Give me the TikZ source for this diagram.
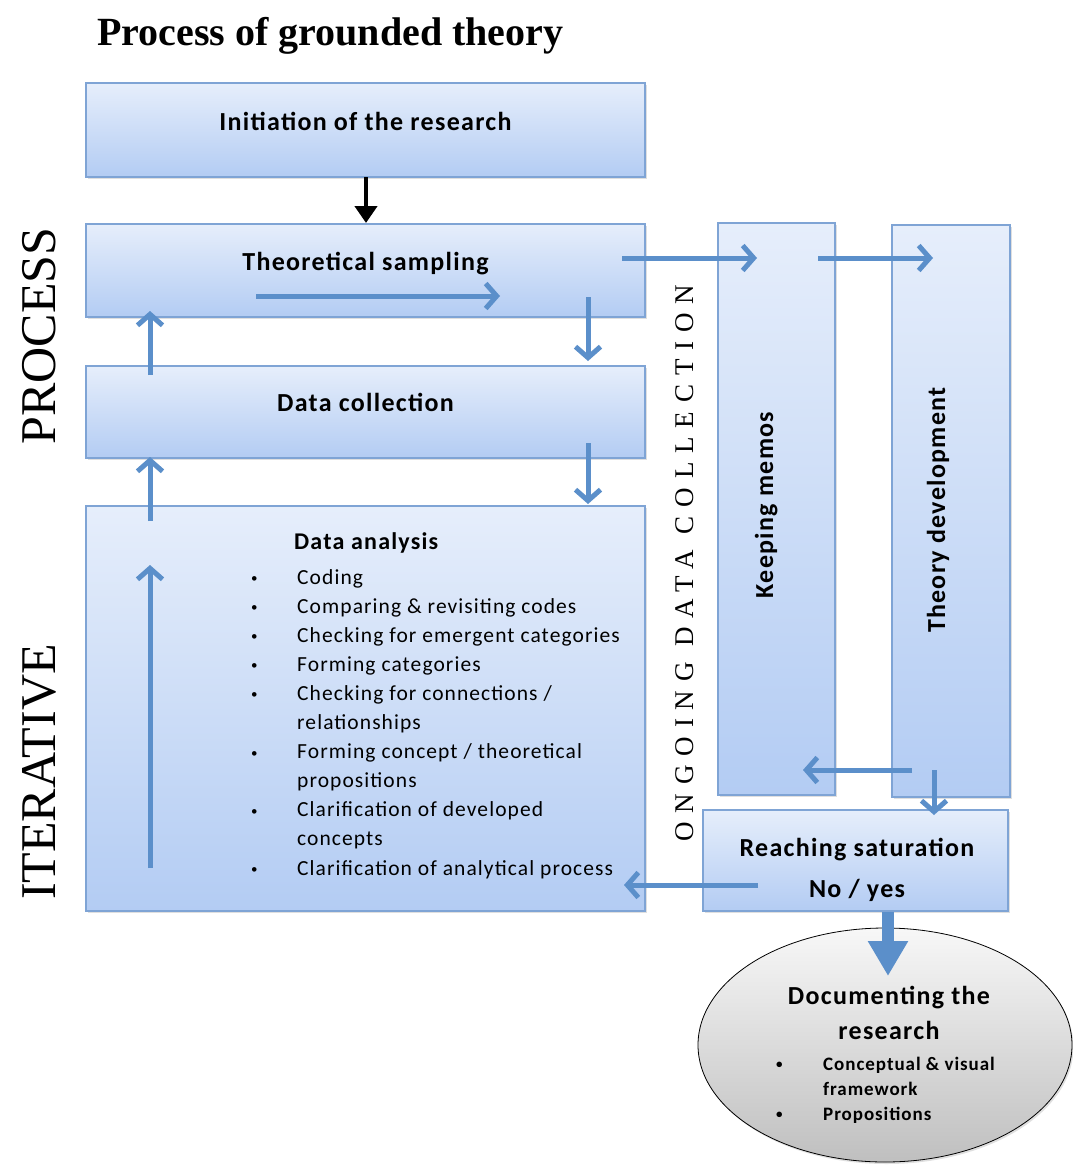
\documentclass[tikz,border=0pt]{standalone}
\usepackage{fontspec}
\setmainfont{Carlito}[LetterSpace=5]
\newfontfamily\serifface{Liberation Serif}
\newfontfamily\spacedserif[LetterSpace=33]{Liberation Serif}
\usetikzlibrary{arrows.meta,shadows,shapes.geometric}

\definecolor{boxtop}{HTML}{E6EEFB}
\definecolor{boxbot}{HTML}{B3CCF3}
\definecolor{boxline}{HTML}{7FA4D5}
\definecolor{flow}{HTML}{5B8FCA}

% small list bullet
\newcommand{\listdot}{\raisebox{1.5pt}{\fontsize{13}{13}\selectfont\textbullet}}

\tikzset{
  stagebox/.style={draw=boxline, line width=1.3pt, top color=boxtop, bottom color=boxbot,
    drop shadow={shadow xshift=1.5pt, shadow yshift=-2pt, opacity=0.25}, inner sep=0pt},
  boxlabel/.style={inner sep=0pt, font=\fontsize{26}{30}\selectfont\bfseries},
  flowarrow/.style={draw=flow, line width=5pt, line join=miter,
    -{Straight Barb[length=11pt,width=25pt]}},
  bigflow/.style={draw=flow, fill=flow, line width=12pt, -{Triangle[length=35pt,width=38pt]}},
  startarrow/.style={draw=black, line width=4.5pt, -{Triangle[length=17pt,width=22pt]}},
  sidelabel/.style={inner sep=0pt, rotate=90, anchor=base, font=\serifface\fontsize{50}{60}\selectfont}
}

\begin{document}
\begin{tikzpicture}[x=1pt, y=-1pt]
\fill[white] (0,0) rectangle (1073,1165);
\useasboundingbox (0,0) rectangle (1073,1165);

% title
\node[anchor=base west, inner sep=0pt, font=\serifface\bfseries\fontsize{40}{48}\selectfont] (title) at (97,45) {Process of grounded theory};

% side labels
\node[sidelabel] (process) at (55,336) {PROCESS};
\node[sidelabel] (iterative) at (55,772) {ITERATIVE};

% stage boxes
\node[stagebox, minimum width=559pt, minimum height=94pt] (init) at (365.5,130) {};
\node[stagebox, minimum width=559pt, minimum height=93pt] (ts) at (365.5,270.5) {};
\node[stagebox, minimum width=559pt, minimum height=92pt] (dc) at (365.5,412) {};
\node[stagebox, minimum width=559pt, minimum height=405pt] (da) at (365.5,708.5) {};
\node[stagebox, minimum width=117pt, minimum height=572pt] (km) at (776.5,509) {};
\node[stagebox, minimum width=118pt, minimum height=572pt] (td) at (951,511) {};
\node[stagebox, minimum width=305pt, minimum height=101pt] (rs) at (855.5,860.5) {};

% final outcome
\node[ellipse, draw=black, line width=0.8pt, top color=gray!6, bottom color=gray!50,
      minimum width=374pt, minimum height=234pt, inner sep=0pt,
      drop shadow={shadow xshift=1.5pt, shadow yshift=-2pt, opacity=0.25}] (doc) at (885,1045) {};

% box texts
\node[boxlabel, anchor=base] (initl) at (365.5,130) {Initiation of the research};
\node[boxlabel, anchor=base] (tsl) at (365.5,270) {Theoretical sampling};
\node[boxlabel, anchor=base] (dcl) at (365.5,411) {Data collection};
\node[boxlabel, anchor=base] (rsl) at (857,856) {Reaching saturation};
\node[boxlabel, anchor=base] (rsl2) at (857,897) {No / yes};
\node[boxlabel, rotate=90, anchor=base] (kml) at (773,505) {Keeping memos};
\node[boxlabel, rotate=90, anchor=base] (tdl) at (945,510) {Theory development};

\node[anchor=base west, inner sep=0pt, font=\fontsize{24}{28}\selectfont\bfseries] (dah) at (294,549) {Data analysis};
\node[anchor=base west, inner sep=0pt, font=\fontsize{21.5}{29.1}\selectfont] (dalist) at (251,584) {%
\begin{tabular}[t]{@{}p{46pt}@{}l@{}}
\listdot & Coding\\
\listdot & Comparing \& revisiting codes\\
\listdot & Checking for emergent categories\\
\listdot & Forming categories\\
\listdot & Checking for connections /\\
 & relationships\\
\listdot & Forming concept / theoretical\\
 & propositions\\
\listdot & Clarification of developed\\
 & concepts\\
\listdot & Clarification of analytical process
\end{tabular}};

\node[anchor=base, inner sep=0pt, font=\fontsize{26}{30}\selectfont\bfseries] (docl) at (889,1004) {Documenting the};
\node[anchor=base, inner sep=0pt, font=\fontsize{26}{30}\selectfont\bfseries] (docl2) at (889,1039) {research};
\node[anchor=base west, inner sep=0pt, font=\fontsize{19}{25}\selectfont\bfseries] (doclist) at (776,1070) {%
\begin{tabular}[t]{@{}p{47pt}@{}l@{}}
\listdot & Conceptual \& visual\\
 & framework\\
\listdot & Propositions
\end{tabular}};

% ongoing data collection
\node[inner sep=0pt, rotate=90, anchor=base, font=\spacedserif\fontsize{27}{30}\selectfont] (ongo) at (693,563) {ONGOING DATA COLLECTION};

% connector end points
\coordinate (i0) at (366,177);  \coordinate (i1) at (366,223);
\coordinate (a1s) at (622,258); \coordinate (a1e) at (757,258);
\coordinate (a2s) at (818,258); \coordinate (a2e) at (933,258);
\coordinate (a3s) at (256,296); \coordinate (a3e) at (500,296);
\coordinate (a4s) at (588,297); \coordinate (a4e) at (588,361);
\coordinate (a5s) at (588,443); \coordinate (a5e) at (588,504);
\coordinate (a6s) at (150,375); \coordinate (a6e) at (150,311);
\coordinate (a7s) at (150,521); \coordinate (a7e) at (150,457);
\coordinate (a8s) at (150,868); \coordinate (a8e) at (150,565);
\coordinate (a9s) at (912,770); \coordinate (a9e) at (803,770);
\coordinate (a10s) at (934,770); \coordinate (a10e) at (934,815);
\coordinate (a11s) at (758,885); \coordinate (a11e) at (624,885);
\coordinate (bs) at (888,912); \coordinate (be) at (888,976);

% connectors
\draw[startarrow] (i0) -- (i1);
\draw[flowarrow] (a1s) -- (a1e);
\draw[flowarrow] (a2s) -- (a2e);
\draw[flowarrow] (a3s) -- (a3e);
\draw[flowarrow] (a4s) -- (a4e);
\draw[flowarrow] (a5s) -- (a5e);
\draw[flowarrow] (a6s) -- (a6e);
\draw[flowarrow] (a7s) -- (a7e);
\draw[flowarrow] (a8s) -- (a8e);
\draw[flowarrow] (a9s) -- (a9e);
\draw[flowarrow] (a10s) -- (a10e);
\draw[flowarrow] (a11s) -- (a11e);
\draw[bigflow] (bs) -- (be);
\end{tikzpicture}
\end{document}
